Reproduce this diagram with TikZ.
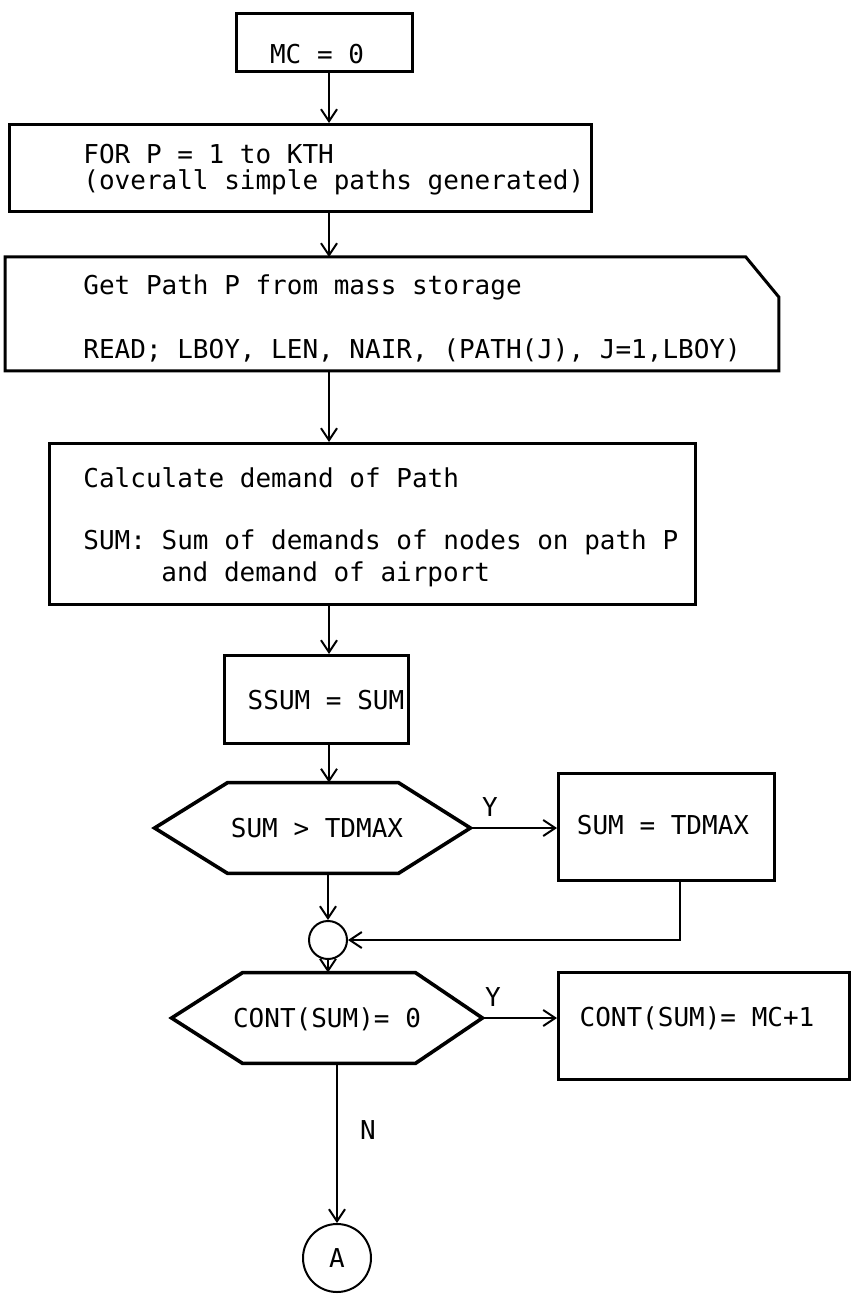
\documentclass[tikz,border=0pt]{standalone}
\usepackage{fontspec}
\newfontfamily\mono{DejaVu Sans Mono}
\usetikzlibrary{arrows.meta,calc}
\begin{document}
\begin{tikzpicture}[x=0.5pt,y=-0.5pt]
\tikzset{
 box/.style={draw, line width=1.5pt, inner sep=0pt},
 hidden/.style={inner sep=0pt},
 txt/.style={font=\mono\fontsize{13pt}{13pt}\selectfont, inner sep=0pt, text height=9.5pt, text depth=0pt},
 conn/.style={line width=1pt, -{Straight Barb[length=6pt,width=8pt,line width=1pt]}},
 hexline/.style={line width=1.8pt, line join=miter},
 ring/.style={circle, draw, line width=1pt, inner sep=0pt}
}
\fill[white] (0,0) rectangle (852,1294);
\useasboundingbox (0,0) rectangle (852,1294);
\coordinate (axis) at (329,0);

% MC = 0
\node[box, minimum width=88pt, minimum height=29pt] (mc) at (324,43) {};
\node[txt] (mct) at (317,54) {MC = 0};

% FOR box
\node[box, anchor=north west, minimum width=291pt, minimum height=43.5pt] (for) at (8,123) {};
\node[txt, anchor=west] (fort1) at (83,154) {FOR P = 1 to KTH};
\node[txt, anchor=west] (fort2) at (83,180) {(overall simple paths generated)};

% Get box (cut corner)
\node[hidden, anchor=north west, minimum width=386.5pt, minimum height=56.5pt] (get) at (5,257) {};
\draw[line width=1.5pt] (get.north west) -- ($(get.north east)+(-33,0)$) -- ($(get.north east)+(0,40)$) -- (get.south east) -- (get.south west) -- cycle;
\node[txt, anchor=west] (gett1) at (83,285) {Get Path P from mass storage};
\node[txt, anchor=west] (gett2) at (83,349) {READ; LBOY, LEN, NAIR, (PATH(J), J=1,LBOY)};

% Calculate box
\node[box, anchor=north west, minimum width=323pt, minimum height=80.5pt] (calc) at (48,442) {};
\node[txt, anchor=west] (calct1) at (83,478) {Calculate demand of Path};
\node[txt, anchor=west] (calct2) at (83,540) {SUM: Sum of demands of nodes on path P};
\node[txt, anchor=west] (calct3) at (161,572) {and demand of airport};

% SSUM box
\node[box, anchor=north west, minimum width=92pt, minimum height=44pt] (ssum) at (223,654) {};
\node[txt] (ssumt) at (326,700) {SSUM = SUM};

% Decision 1
\node[hidden, minimum width=85pt, minimum height=45pt] (dec1) at (313,828) {};
\coordinate (d1l) at ($(dec1.west)+(-73,0)$);
\coordinate (d1r) at ($(dec1.east)+(72,0)$);
\draw[hexline] (dec1.north west) -- (dec1.north east) -- (d1r) -- (dec1.south east) -- (dec1.south west) -- (d1l) -- cycle;
\node[txt] (dec1t) at (317,828) {SUM > TDMAX};

% SUM = TDMAX box
\node[box, anchor=north west, minimum width=108pt, minimum height=53.5pt] (tdmax) at (557,772) {};
\node[txt] (tdmaxt) at (663,825) {SUM = TDMAX};
\node[txt] (y1) at (490,807) {Y};

% junction
\node[ring, minimum size=19pt] (j) at (328,940) {};

% Decision 2
\node[hidden, minimum width=86pt, minimum height=45pt] (dec2) at (329,1018) {};
\coordinate (d2l) at ($(dec2.west)+(-71,0)$);
\coordinate (d2r) at ($(dec2.east)+(67,0)$);
\draw[hexline] (dec2.north west) -- (dec2.north east) -- (d2r) -- (dec2.south east) -- (dec2.south west) -- (d2l) -- cycle;
\node[txt] (dec2t) at (327,1018) {CONT(SUM)= 0};
\node[txt] (y2) at (493,997) {Y};

% CONT box
\node[box, anchor=north west, minimum width=145.5pt, minimum height=53.5pt] (cont) at (557,971) {};
\node[txt] (contt) at (697,1017) {CONT(SUM)= MC+1};

% N and connector A
\node[txt] (n) at (368,1130) {N};
\node[ring, txt, minimum size=34pt] (a) at (337,1258) {A};

% connectors
\draw[conn] (axis |- mc.south) -- (axis |- for.north);
\draw[conn] (axis |- for.south) -- (axis |- get.north);
\draw[conn] (axis |- get.south) -- (axis |- calc.north);
\draw[conn] (axis |- calc.south) -- (axis |- ssum.north);
\draw[conn] (axis |- ssum.south) -- (axis |- dec1.north);
\draw[conn] (j.north |- dec1.south) -- (j.north);
\draw[conn] (j.south) -- (j.south |- dec2.north);
\draw[conn] (d1r) -- (d1r -| tdmax.west);
\coordinate (tb) at ($(tdmax.south west)!0.56!(tdmax.south east)$);
\draw[conn] (tb) |- (j.east);
\draw[conn] (d2r) -- (d2r -| cont.west);
\draw[conn] (a.north |- dec2.south) -- (a.north);
\end{tikzpicture}
\end{document}
